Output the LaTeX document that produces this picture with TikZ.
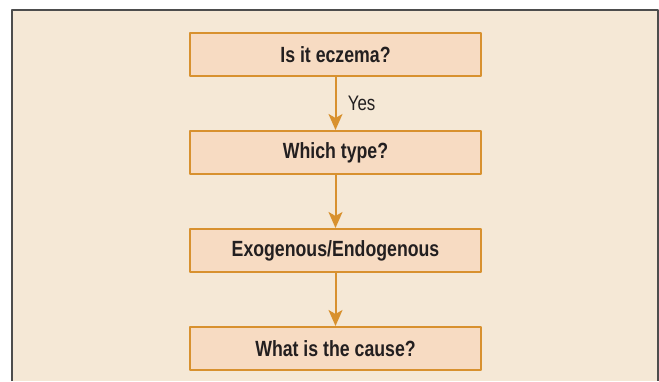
\documentclass[tikz,border=0pt]{standalone}
\usepackage{fontspec}
\setmainfont{Liberation Sans}[FakeStretch=0.805]
\usetikzlibrary{positioning,arrows.meta}
\definecolor{panel}{HTML}{F5E8D6}
\definecolor{boxfill}{HTML}{F7DBC2}
\definecolor{boxline}{HTML}{D8912F}
\definecolor{frameline}{HTML}{4D4D4D}
\definecolor{ink}{HTML}{231F20}
\begin{document}
\begin{tikzpicture}[x=1pt, y=-1pt, line join=round, >={Stealth[length=16pt,width=14pt,inset=4pt]},
    qbox/.style={draw=boxline, line width=2pt, fill=boxfill, minimum width=291pt, minimum height=43pt,
        inner sep=0pt, text=ink, font=\fontsize{22}{24}\selectfont\bfseries},
    flow/.style={->, draw=boxline, fill=boxline, line width=2pt}]
    \useasboundingbox (0,0) rectangle (659,381);
    % panel
    \fill[panel] (12,10) rectangle (657.5,381);
    \draw[frameline, line width=2pt] (12,381) -- (12,10) -- (657.5,10) -- (657.5,381);
    % questions
    \node[qbox] (eczema) at (335.5,54.5) {Is it eczema?};
    \node[qbox, below=53pt of eczema] (type) {Which type?};
    \node[qbox, below=53pt of type] (origin) {Exogenous/Endogenous};
    \node[qbox, below=53pt of origin] (cause) {What is the cause?};
    % arrows
    \draw[flow] (eczema) -- node[right=8pt, text=ink, font=\fontsize{21}{22}\selectfont] (yes) {Yes} (type);
    \draw[flow] (type) -- (origin);
    \draw[flow] (origin) -- (cause);
\end{tikzpicture}
\end{document}
